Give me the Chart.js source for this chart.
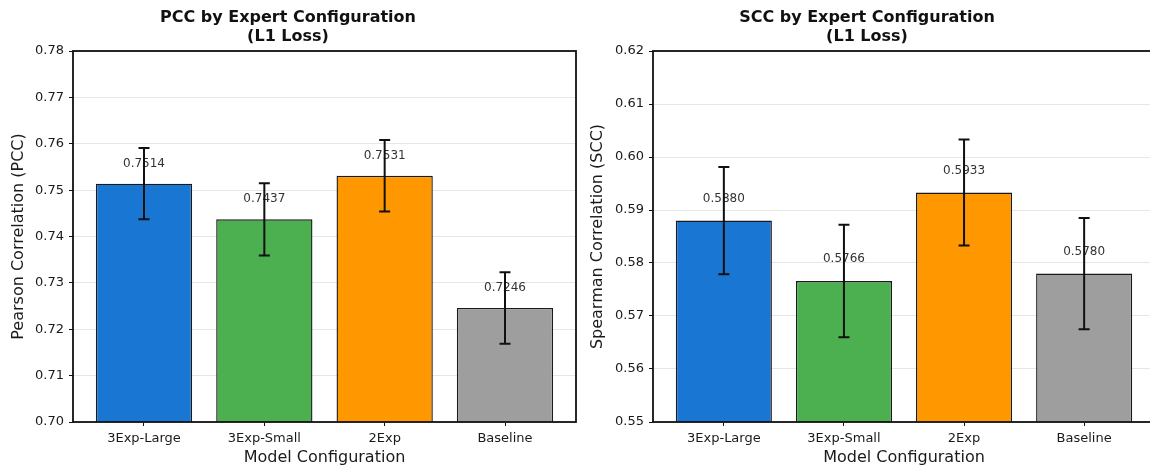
<!DOCTYPE html>
<html>
<head>
<meta charset="utf-8">
<script src="https://cdn.jsdelivr.net/npm/chart.js@4/dist/chart.umd.min.js"></script>
<style>
  html, body { margin: 0; padding: 0; background: #fff; overflow: hidden; width: 1150px; height: 470px; }
  .wrap { position: absolute; top: 0; width: 650px; height: 470px; }
  #w1 { left: 0px; }
  #w2 { left: 579px; }
</style>
</head>
<body>
<div class="wrap" id="w1"><canvas id="c1" width="650" height="470"></canvas></div>
<div class="wrap" id="w2"><canvas id="c2" width="650" height="470"></canvas></div>
<script>
// ---- data ----
const categories = ['3Exp-Large', '3Exp-Small', '2Exp', 'Baseline'];
const pccValues = [0.7514, 0.7437, 0.7531, 0.7246];
const pccErrors = [0.0077, 0.0078, 0.0077, 0.0077];
const sccValues = [0.5880, 0.5766, 0.5933, 0.5780];
const sccErrors = [0.0101, 0.0106, 0.0100, 0.0105];
const barColors = ['#1976D2', '#4CAF50', '#FF9800', '#9E9E9E'];
const pccTitle = ['PCC by Expert Configuration', '(L1 Loss)'];
const sccTitle = ['SCC by Expert Configuration', '(L1 Loss)'];
const pccAxisLabel = 'Pearson Correlation (PCC)';
const sccAxisLabel = 'Spearman Correlation (SCC)';
const xAxisLabel = 'Model Configuration';
const pccRange = [0.70, 0.78];
const sccRange = [0.55, 0.62];

const FONT = "'DejaVu Sans', 'Liberation Sans', sans-serif";
Chart.defaults.font.family = FONT;
Chart.defaults.color = '#1a1a1a';
Chart.defaults.animation = false;

const overlayPlugin = {
  id: 'overlay',
  afterDatasetsDraw(chart, args, opts) {
    const ctx = chart.ctx;
    const meta = chart.getDatasetMeta(0);
    const ys = chart.scales.y;
    const vals = opts.values, errs = opts.errors;
    ctx.save();
    ctx.font = '12px ' + FONT;
    ctx.fillStyle = '#333';
    ctx.textAlign = 'center';
    ctx.textBaseline = 'alphabetic';
    meta.data.forEach((bar, i) => {
      const y = ys.getPixelForValue(vals[i] + 0.003) - 3;
      ctx.fillText(vals[i].toFixed(4), bar.x, y);
    });
    ctx.strokeStyle = '#111';
    ctx.lineWidth = 2;
    const cap = 5.5;
    meta.data.forEach((bar, i) => {
      const yt = ys.getPixelForValue(vals[i] + errs[i]);
      const yb = ys.getPixelForValue(vals[i] - errs[i]);
      ctx.beginPath();
      ctx.moveTo(bar.x, yt); ctx.lineTo(bar.x, yb);
      ctx.moveTo(bar.x - cap, yt); ctx.lineTo(bar.x + cap, yt);
      ctx.moveTo(bar.x - cap, yb); ctx.lineTo(bar.x + cap, yb);
      ctx.stroke();
    });
    ctx.restore();
  },
  afterDraw(chart) {
    const ctx = chart.ctx;
    const a = chart.chartArea;
    ctx.save();
    ctx.strokeStyle = '#111';
    ctx.lineWidth = 1.8;
    ctx.strokeRect(a.left, a.top, a.right - a.left, a.bottom - a.top);
    ctx.restore();
  }
};

function makeChart(canvasId, values, errors, range, titleLines, yLabel, yWidth) {
  return new Chart(document.getElementById(canvasId), {
    type: 'bar',
    data: {
      datasets: [{
        data: values.map((v, i) => ({ x: i, y: v })),
        backgroundColor: barColors,
        borderColor: '#1a1a1a',
        borderWidth: 1.4,
        borderSkipped: false,
        barPercentage: 0.8,
        categoryPercentage: 1.0
      }]
    },
    options: {
      responsive: false,
      animation: false,
      layout: { padding: { left: 0, right: 74, top: 0, bottom: 0 } },
      plugins: {
        legend: { display: false },
        tooltip: { enabled: false },
        title: {
          display: true,
          text: titleLines,
          font: { size: 16, weight: 'bold', family: FONT },
          color: '#111',
          padding: { top: 8, bottom: 4.6 },
          lineHeight: 1.2
        },
        overlay: { values: values, errors: errors }
      },
      scales: {
        x: {
          type: 'linear',
          offset: false,
          min: -0.59,
          max: 3.59,
          afterBuildTicks: (s) => { s.ticks = categories.map((c, i) => ({ value: i })); },
          afterFit: (s) => { s.height = 48; },
          ticks: {
            callback: (v) => categories[v],
            font: { size: 13, family: FONT },
            color: '#1a1a1a',
            padding: 5,
            maxRotation: 0,
            autoSkip: false
          },
          grid: { offset: false, drawOnChartArea: false, drawTicks: true, tickLength: 4, tickColor: '#111', tickWidth: 1 },
          border: { display: false },
          title: {
            display: true,
            text: xAxisLabel,
            font: { size: 16, family: FONT },
            color: '#1a1a1a',
            padding: { top: 0, bottom: 2.7 }
          }
        },
        y: {
          min: range[0],
          max: range[1],
          afterFit: (s) => { s.width = yWidth; },
          ticks: {
            stepSize: 0.01,
            callback: (v) => v.toFixed(2),
            font: { size: 13, family: FONT },
            color: '#1a1a1a',
            padding: 5
          },
          grid: { color: '#e6e6e6', lineWidth: 1, drawTicks: true, tickLength: 4, tickColor: '#111', tickWidth: 1 },
          border: { display: false },
          title: {
            display: true,
            text: yLabel,
            font: { size: 16, family: FONT },
            color: '#1a1a1a',
            padding: { top: 9.5, bottom: 0 }
          }
        }
      }
    },
    plugins: [overlayPlugin]
  });
}

makeChart('c1', pccValues, pccErrors, pccRange, pccTitle, pccAxisLabel, 73);
makeChart('c2', sccValues, sccErrors, sccRange, sccTitle, sccAxisLabel, 74);
</script>
</body>
</html>
